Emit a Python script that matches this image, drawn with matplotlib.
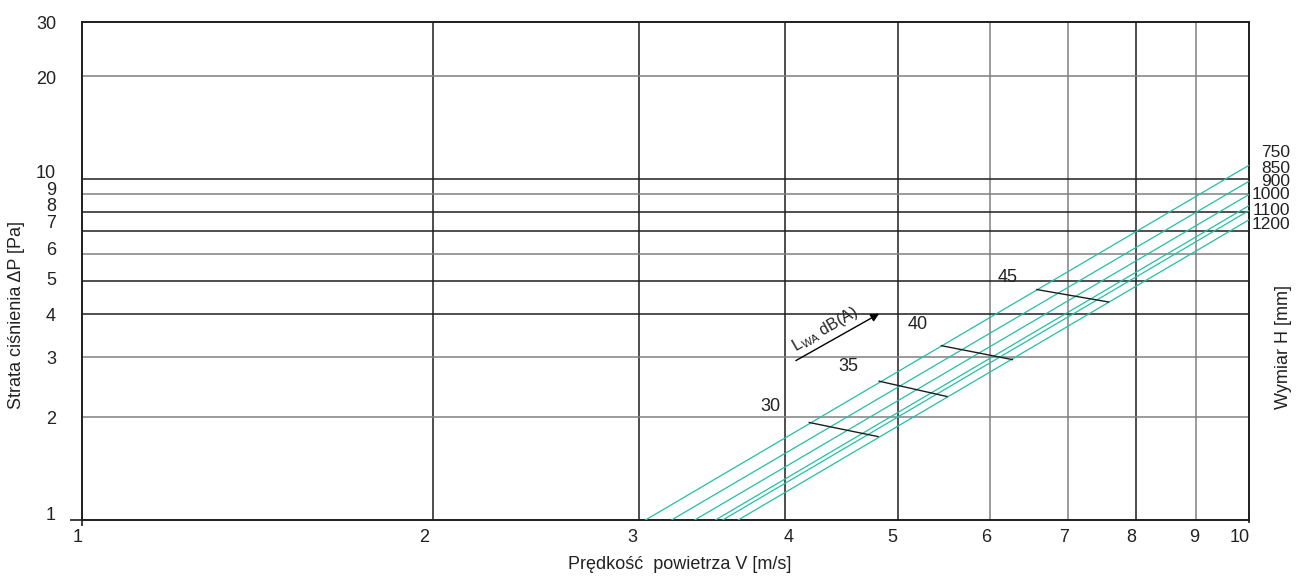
import matplotlib
matplotlib.use('Agg')
import matplotlib.pyplot as plt
from matplotlib.ticker import NullLocator
from matplotlib.transforms import ScaledTranslation

plt.rcParams['font.family'] = ['Liberation Sans', 'DejaVu Sans']
plt.rcParams['mathtext.fontset'] = 'custom'
plt.rcParams['mathtext.rm'] = 'Liberation Sans'

# duct height H [mm] for every characteristic line
sizes = ['750', '850', '900', '1000', '1100', '1200']
# line ends: velocity at dP = 1 Pa and dP at v = 10 m/s
v_at_1pa = [3.04, 3.20, 3.35, 3.49, 3.54, 3.65]
dp_at_10ms = [10.94, 9.82, 8.98, 8.33, 8.06, 7.57]

# sound power level marks L_WA dB(A)
lwa_levels = ['30', '35', '40', '45']
lwa_v_start = [4.20, 4.82, 5.45, 6.58]
lwa_dp_start = [1.93, 2.55, 3.24, 4.73]
lwa_v_end = [4.81, 5.51, 6.27, 7.58]
lwa_dp_end = [1.755, 2.30, 2.95, 4.35]

x_ticks = [1, 2, 3, 4, 5, 6, 7, 8, 9, 10]
y_ticks = [1, 2, 3, 4, 5, 6, 7, 8, 9, 10, 20]

# layout
teal = '#22bfa8'
dark = '#1e1e1e'
grey = '#808080'
txt = '#222222'
x_dark = [2, 3, 4, 5, 8]
y_dark = [4, 5, 7, 8, 10]
# the labels in the original sit a little off their grid lines (pixels)
x_label_dx = [-4, -9, -6, 4, -5, -4, -4, -5, -1, -9]
y_label_dy = [4, -2, -2, -2, 1, 4, 8, 5, 4, 5, -4]
size_label_y = [11.94, 10.7, 9.80, 8.98, 8.07, 7.33]
lwa_label_off = [(-39, 16), (-31, 15), (-24, 21), (-29, 12)]


def shift(px_x, px_y):
    return ScaledTranslation(px_x / 100, px_y / 100, fig.dpi_scale_trans)


fig = plt.figure(figsize=(13.04, 5.77), dpi=100)
ax = fig.add_axes([82 / 1304, 57 / 577, 1167 / 1304, 498.3 / 577])
ax.set_xscale('log')
ax.set_yscale('log')
ax.set_xlim(1, 10)
ax.set_ylim(1, 28.8)

for i in range(len(sizes)):
    ax.plot([v_at_1pa[i], 10], [1, dp_at_10ms[i]], color=teal, lw=0.9,
            zorder=3)
    ax.text(1.035, size_label_y[i], sizes[i], transform=ax.get_yaxis_transform(),
            ha='right', va='center', fontsize=12.5, color=txt)

for i in range(len(lwa_levels)):
    ax.plot([lwa_v_start[i], lwa_v_end[i]], [lwa_dp_start[i], lwa_dp_end[i]],
            color=dark, lw=1.0, zorder=4)
    ax.annotate(lwa_levels[i], (lwa_v_start[i], lwa_dp_start[i]),
                xytext=lwa_label_off[i], textcoords='offset pixels',
                ha='center', va='center', fontsize=13, color=txt)

# arrow with L_WA dB(A)
ax.annotate('', xy=(4.82, 4.02), xytext=(4.09, 2.93),
            arrowprops=dict(arrowstyle='-|>', color='black', lw=1.0,
                            mutation_scale=12, shrinkA=0, shrinkB=0))
ax.annotate(r'L$_{\mathregular{WA}}$ dB(A)', (4.09, 2.93), xytext=(2, 5),
            textcoords='offset pixels', rotation=30, rotation_mode='anchor',
            ha='left', va='bottom', fontsize=11.5, color=txt)

# grid
ax.xaxis.set_minor_locator(NullLocator())
ax.yaxis.set_minor_locator(NullLocator())
ax.set_xticks(x_ticks)
ax.set_yticks(y_ticks)
ax.set_xticklabels([])
ax.set_yticklabels([])
for v in x_ticks[1:-1]:
    ax.axvline(v, color=dark if v in x_dark else grey, lw=1.1, zorder=1)
for v in y_ticks[1:]:
    ax.axhline(v, color=dark if v in y_dark else grey, lw=1.1, zorder=1)

# tick labels, placed as in the original
for v, dx in zip(x_ticks, x_label_dx):
    ax.text(v, 0, str(v), transform=ax.get_xaxis_transform() + shift(dx, -18),
            ha='center', va='center', fontsize=13, color=txt)
for v, dy in zip(y_ticks, y_label_dy):
    ax.text(0, v, str(v), transform=ax.get_yaxis_transform() + shift(-26, dy),
            ha='right', va='center', fontsize=13, color=txt)
ax.text(0, 1, '30', transform=ax.transAxes + shift(-26, -3),
        ha='right', va='center', fontsize=13, color=txt)

# short outward ticks at the origin and at x = 10
ax.tick_params(direction='out', length=0, width=1.2, color=dark)
ax.yaxis.get_major_ticks()[0].tick1line.set_markersize(9)
ax.xaxis.get_major_ticks()[0].tick1line.set_markersize(4)
ax.xaxis.get_major_ticks()[-1].tick1line.set_markersize(2)

for s in ax.spines.values():
    s.set_color(dark)
    s.set_linewidth(1.4)

fig.text(0.5215, 0.021, 'Prędkość  powietrza V [m/s]', ha='center',
         va='center', fontsize=13, color=txt)
fig.text(0.013, 0.454, 'Strata ciśnienia ΔP [Pa]', rotation=90, ha='center',
         va='center', fontsize=13, color=txt)
fig.text(0.984, 0.399, 'Wymiar H [mm]', rotation=90, ha='center',
         va='center', fontsize=13, color=txt)

fig.savefig('out.png', dpi=100)
